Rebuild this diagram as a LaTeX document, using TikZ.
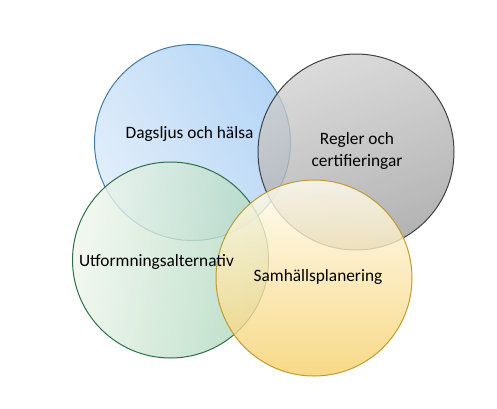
\documentclass[tikz,border=0pt]{standalone}
\usepackage{fontspec}
\setmainfont{Carlito}
\definecolor{bluelight}{HTML}{DAEAFA}
\definecolor{bluedark}{HTML}{A3CBF4}
\definecolor{blueline}{HTML}{3F7CA6}
\definecolor{graylight}{HTML}{D2D2D2}
\definecolor{graydark}{HTML}{A0A0A0}
\definecolor{grayline}{HTML}{404040}
\definecolor{greenlight}{HTML}{F0F7EE}
\definecolor{greendark}{HTML}{ACD6BB}
\definecolor{greenline}{HTML}{2E6E45}
\definecolor{yellowlight}{HTML}{FFFCF0}
\definecolor{yellowdark}{HTML}{F6D06A}
\definecolor{yellowline}{HTML}{BF9B30}
\tikzset{
  venn/.style={circle, minimum size=147pt, inner sep=0pt, line width=0.75pt, fill opacity=0.8, draw opacity=1},
  lbl/.style={font=\fontsize{13}{16}\selectfont, text=black, align=center}
}
\begin{document}
\begin{tikzpicture}[x=0.75pt,y=-0.75pt]
\useasboundingbox (0,0) rectangle (497,408);
\fill[white] (0,0) rectangle (497,408);
\node[venn, draw=blueline, left color=bluelight, right color=bluedark, shading angle=120] (c1) at (192.5,142.5) {};
\node[venn, draw=grayline, top color=graylight, bottom color=graydark, shading angle=20] (c2) at (356,152) {};
\node[venn, draw=greenline, left color=greenlight, right color=greendark, shading angle=80] (c3) at (170.5,260) {};
\node[venn, draw=yellowline, top color=yellowlight, bottom color=yellowdark] (c4) at (314,278) {};
\node[lbl] (t1) at (189.5,134) {Dagsljus och hälsa};
\node[lbl] (t2) at (357,151) {Regler och\\certifieringar};
\node[lbl] (t3) at (156.5,261.5) {Utformningsalternativ};
\node[lbl] (t4) at (318,276.5) {Samhällsplanering};
\end{tikzpicture}
\end{document}
